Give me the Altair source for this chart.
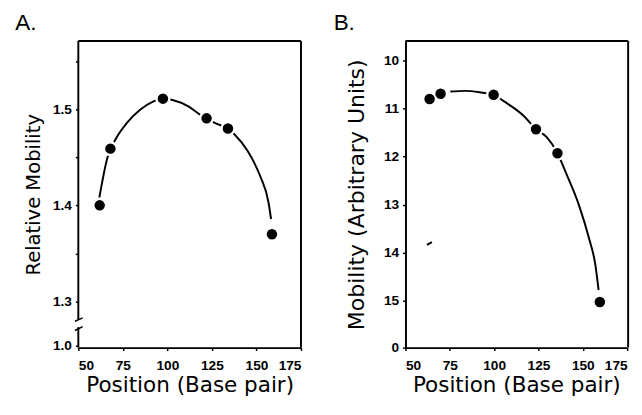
import altair as alt
import pandas as pd

# ---- data ----
posA = [62, 68, 97.5, 122, 134, 158.7]
relMobA = [1.40, 1.459, 1.511, 1.4905, 1.480, 1.370]
curveAx = [61.8, 66.4, 71.0, 77.4, 84.7, 91.9, 97.5, 102.9, 112.0, 118.4, 121.8, 127.5, 133.9, 137.6, 144.9, 152.2, 156.8, 158.2]
curveAy = [1.408, 1.450, 1.469, 1.486, 1.4994, 1.5078, 1.511, 1.5096, 1.5027, 1.4943, 1.4905, 1.485, 1.480, 1.474, 1.457, 1.430, 1.4027, 1.3858]

posB = [63.6, 69.8, 99.7, 123.6, 135.7, 159.6]
mobB = [10.80, 10.69, 10.71, 11.43, 11.93, 15.03]
curveBx = [75.3, 83.6, 92.8, 99.7, 105.6, 116.6, 123.6, 129.5, 135.7, 140.5, 147.9, 153.4, 157.0, 158.9]
curveBy = [10.644, 10.63, 10.665, 10.71, 10.85, 11.15, 11.43, 11.59, 11.93, 12.34, 13.02, 13.69, 14.24, 14.78]

xTicks = [50, 62.5, 75, 87.5, 100, 112.5, 125, 137.5, 150, 162.5, 175]
yTicksA = [1.2545, 1.3, 1.35, 1.4, 1.45, 1.5, 1.55]
yTicksB = [10, 10.5, 11, 11.5, 12, 12.5, 13, 13.5, 14, 14.5, 15, 15.5, 15.98]
strayBx = [62.1, 64.9]
strayBy = [13.84, 13.78]

W, H = 228, 314
LABEL_FONT = "Liberation Sans"
TITLE_FONT = "DejaVu Sans"

xaxis = alt.Axis(values=xTicks, labelExpr="datum.value % 25 == 0 ? format(datum.value, 'd') : ''",
                 title="Position (Base pair)", tickSize=3, labelPadding=8, titlePadding=3,
                 titleFontSize=22, grid=False, domainWidth=2)
xscale = alt.Scale(domain=[50, 175], nice=False, zero=False)

# ---------- Panel A ----------
dfA = pd.DataFrame({"x": posA, "y": relMobA})
dfAc = pd.DataFrame({"x": curveAx, "y": curveAy})
yscaleA = alt.Scale(domain=[1.252, 1.571], nice=False, zero=False)
yaxisA = alt.Axis(values=yTicksA,
                  labelExpr="datum.value < 1.28 ? '1.0' : (round(datum.value*100) % 10 == 0 ? format(datum.value, '.1f') : '')",
                  title="Relative Mobility", tickSize=3, labelPadding=4, titlePadding=9,
                  titleFontSize=20, grid=False, domain=False)

lineA = alt.Chart(dfAc).mark_line(color="black", strokeWidth=2, interpolate="monotone").encode(
    x=alt.X("x:Q", scale=xscale, axis=xaxis),
    y=alt.Y("y:Q", scale=yscaleA, axis=yaxisA),
)
haloA = alt.Chart(dfA).mark_point(filled=True, color="white", opacity=1, size=240).encode(
    x=alt.X("x:Q", scale=xscale), y=alt.Y("y:Q", scale=yscaleA))
dotsA = alt.Chart(dfA).mark_point(filled=True, color="black", opacity=1, size=115).encode(
    x=alt.X("x:Q", scale=xscale), y=alt.Y("y:Q", scale=yscaleA))

def frame_rules(broken):
    layers = [
        alt.Chart(pd.DataFrame({"a": [0]})).mark_rule(color="black", strokeWidth=2).encode(
            x=alt.value(0), x2=alt.value(W), y=alt.value(0)),
        alt.Chart(pd.DataFrame({"a": [0]})).mark_rule(color="black", strokeWidth=2).encode(
            x=alt.value(W), y=alt.value(0), y2=alt.value(H)),
    ]
    if broken:
        layers += [
            alt.Chart(pd.DataFrame({"a": [0]})).mark_rule(color="black", strokeWidth=2).encode(
                x=alt.value(0), y=alt.value(0), y2=alt.value(285)),
            alt.Chart(pd.DataFrame({"a": [0]})).mark_rule(color="black", strokeWidth=2).encode(
                x=alt.value(0), y=alt.value(293), y2=alt.value(H)),
            alt.Chart(pd.DataFrame({"a": [0]})).mark_rule(color="black", strokeWidth=1.5).encode(
                x=alt.value(-3.5), x2=alt.value(4.5), y=alt.value(287), y2=alt.value(283.5)),
            alt.Chart(pd.DataFrame({"a": [0]})).mark_rule(color="black", strokeWidth=1.5).encode(
                x=alt.value(-3.5), x2=alt.value(4.5), y=alt.value(296.5), y2=alt.value(292.5)),
        ]
    return layers

panelA = alt.layer(lineA, haloA, dotsA, *frame_rules(True)).properties(
    width=W, height=H,
    title=alt.TitleParams("A.", anchor="start", frame="bounds", font=LABEL_FONT, fontSize=23,
                          fontWeight="normal", offset=5, dx=-9))

# ---------- Panel B ----------
dfB = pd.DataFrame({"x": posB, "y": mobB})
dfBc = pd.DataFrame({"x": curveBx, "y": curveBy})
dfBs = pd.DataFrame({"x": strayBx, "y": strayBy})
yscaleB = alt.Scale(domain=[9.59, 15.98], nice=False, zero=False, reverse=True)
yaxisB = alt.Axis(values=yTicksB,
                  labelExpr="datum.value > 15.9 ? '0' : (datum.value % 1 == 0 ? format(datum.value, 'd') : '')",
                  title="Mobility (Arbitrary Units)", tickSize=3, labelPadding=4, titlePadding=15,
                  titleFontSize=22.5, grid=False, domainWidth=2)

lineB = alt.Chart(dfBc).mark_line(color="black", strokeWidth=2, interpolate="monotone").encode(
    x=alt.X("x:Q", scale=xscale, axis=xaxis),
    y=alt.Y("y:Q", scale=yscaleB, axis=yaxisB),
)
strayB = alt.Chart(dfBs).mark_line(color="black", strokeWidth=2).encode(
    x=alt.X("x:Q", scale=xscale), y=alt.Y("y:Q", scale=yscaleB))
haloB = alt.Chart(dfB).mark_point(filled=True, color="white", opacity=1, size=240).encode(
    x=alt.X("x:Q", scale=xscale), y=alt.Y("y:Q", scale=yscaleB))
dotsB = alt.Chart(dfB).mark_point(filled=True, color="black", opacity=1, size=115).encode(
    x=alt.X("x:Q", scale=xscale), y=alt.Y("y:Q", scale=yscaleB))

panelB = alt.layer(lineB, strayB, haloB, dotsB, *frame_rules(False)).properties(
    width=W - 1, height=H,
    title=alt.TitleParams("B.", anchor="start", frame="bounds", font=LABEL_FONT, fontSize=23,
                          fontWeight="normal", offset=5, dx=-13))

chart = alt.hconcat(panelA, panelB, spacing=32).resolve_scale(y="independent").properties(
    padding={"left": 7, "top": 0, "right": 5, "bottom": 5}
).configure_view(stroke=None).configure_axis(
    labelFont=LABEL_FONT, labelFontWeight="bold", labelFontSize=14, labelColor="black",
    titleFont=TITLE_FONT, titleFontWeight="normal", titleColor="black",
    domainColor="black", tickColor="black", tickWidth=1.5,
)

chart.save("out.html", embed_options={"renderer": "svg", "actions": False})
